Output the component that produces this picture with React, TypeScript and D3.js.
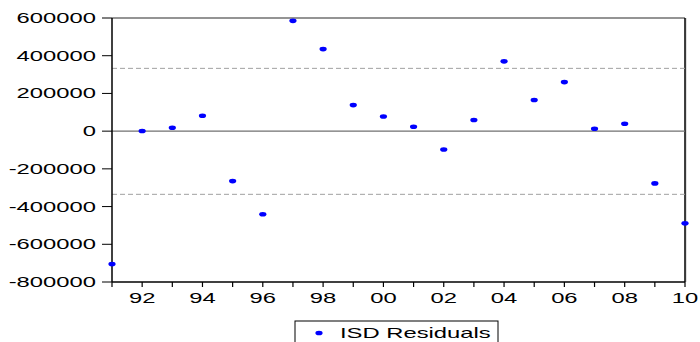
import React from "react";
import * as d3 from "d3";

const years = [1991,1992,1993,1994,1995,1996,1997,1998,1999,2000,2001,2002,2003,2004,2005,2006,2007,2008,2009,2010];
const residuals = [-705000,1000,18000,82000,-265000,-441000,585000,435000,138000,78000,23000,-97000,59000,370000,165000,260000,13000,39000,-277000,-489000];
const bandValues = [333000, -335000];
const yTicks = [600000,400000,200000,0,-200000,-400000,-600000,-800000];
const xLabelYears = [1992,1994,1996,1998,2000,2002,2004,2006,2008,2010];
const seriesName = "ISD Residuals";

const SX = 1.7;
const FONT = "Liberation Sans, Arial, sans-serif";

export default function App() {
  const left = 112, right = 685, top = 18, bottom = 282;
  const x = d3.scaleLinear().domain([1991, 2010]).range([left, right]);
  const y = d3.scaleLinear().domain([-800000, 600000]).range([bottom, top]);
  const fmtYear = (yr: number) => String(yr % 100).padStart(2, "0");

  return (
    <svg width={700} height={342} style={{ position: "absolute", left: 0, top: 0, background: "#fff" }}>
      {/* top border */}
      <line x1={left} x2={right} y1={top} y2={top} stroke="#707070" strokeWidth={1.5} />
      {/* right border */}
      <line x1={right + 1} x2={right + 1} y1={top} y2={bottom} stroke="#c0c0c0" strokeWidth={1} />
      <line x1={right} x2={right} y1={top} y2={bottom} stroke="#000" strokeWidth={1.5} />
      {/* dashed bands */}
      {bandValues.map((v, i) => (
        <line key={i} x1={left} x2={right} y1={y(v)} y2={y(v)} stroke="#a0a0a0" strokeWidth={1} strokeDasharray="5,3" />
      ))}
      {/* zero line */}
      <line x1={left} x2={right} y1={y(0)} y2={y(0)} stroke="#707070" strokeWidth={1.2} />
      {/* left axis */}
      <line x1={left} x2={left} y1={top} y2={bottom} stroke="#000" strokeWidth={1.5} />
      {/* bottom axis */}
      <line x1={left} x2={right} y1={bottom} y2={bottom} stroke="#000" strokeWidth={1.5} />
      {yTicks.map((t) => (
        <g key={t}>
          <line x1={left - 10} x2={left} y1={y(t)} y2={y(t)} stroke="#000" strokeWidth={1} />
          <text
            transform={`translate(${left - 16},${y(t) + 5}) scale(${SX},1)`}
            textAnchor="end"
            fontFamily={FONT}
            fontSize={14}
            fill="#000"
          >
            {t}
          </text>
        </g>
      ))}
      {years.map((yr) => (
        <line key={yr} x1={x(yr)} x2={x(yr)} y1={bottom} y2={bottom + 5} stroke="#000" strokeWidth={1.2} />
      ))}
      {xLabelYears.map((yr) => (
        <text
          key={yr}
          transform={`translate(${x(yr)},${303}) scale(${SX},1)`}
          textAnchor="middle"
          fontFamily={FONT}
          fontSize={14}
          fill="#000"
        >
          {fmtYear(yr)}
        </text>
      ))}
      {years.map((yr, i) => (
        <ellipse key={yr} cx={x(yr)} cy={y(residuals[i])} rx={3.6} ry={2.3} fill="#0000ff" />
      ))}
      {/* legend */}
      <rect x={295} y={321} width={203} height={30} fill="#fff" stroke="#000" strokeWidth={1} />
      <ellipse cx={319} cy={333} rx={3.6} ry={2.3} fill="#0000ff" />
      <text
        transform={`translate(340,338) scale(${SX},1)`}
        fontFamily={FONT}
        fontSize={14}
        fill="#000"
      >
        {seriesName}
      </text>
    </svg>
  );
}
